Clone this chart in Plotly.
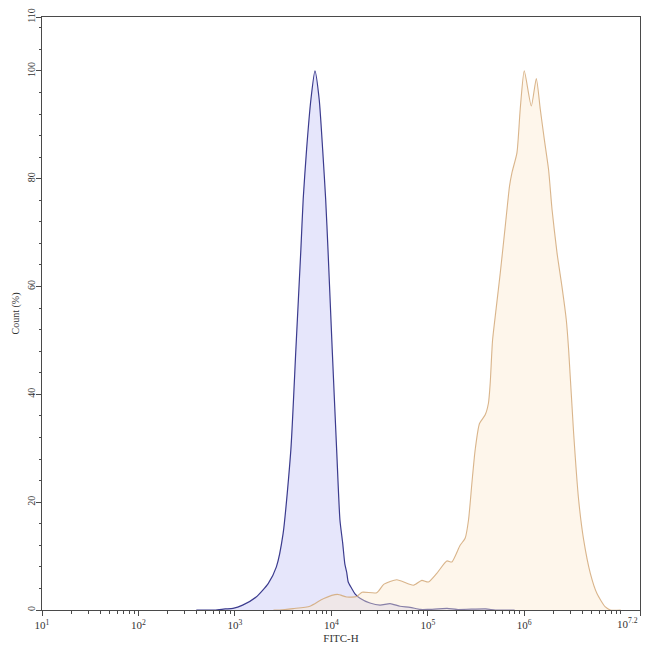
import numpy as np
import plotly.graph_objects as go

# FITC-H channel positions stored as log10 values, counts as % of max
blue_log = [2.60, 2.79, 2.90, 2.98, 3.08, 3.22, 3.345, 3.43, 3.50, 3.58, 3.632, 3.684,
            3.708, 3.743, 3.788, 3.83, 3.874, 3.91, 3.941, 3.965, 4.009, 4.055, 4.089,
            4.117, 4.14, 4.159, 4.175, 4.211, 4.245, 4.297, 4.40, 4.505, 4.609, 4.712,
            4.816, 4.92, 5.0, 5.2, 5.3, 5.6, 5.7, 5.9]
blue_count = [0, 0, 0.2, 0.3, 0.9, 2.4, 4.9, 8.0, 14.2, 29.7, 48.3, 66.9,
              76.2, 85.4, 94.7, 100, 94.7, 85.4, 76.2, 66.9, 48.3, 29.7, 16.7,
              12.5, 8.5, 7.0, 5.2, 4.0, 3.0, 2.2, 1.3, 0.9, 1.2, 0.7,
              0.5, 0.1, 0.1, 0.3, 0.1, 0.2, 0, 0]

orange_log = [3.40, 3.466, 3.604, 3.778, 3.916, 4.063, 4.159, 4.263, 4.318, 4.47, 4.546,
              4.678, 4.851, 4.938, 5.006, 5.093, 5.197, 5.249, 5.335, 5.387, 5.422,
              5.457, 5.491, 5.536, 5.595, 5.629, 5.647, 5.671, 5.709, 5.751, 5.803,
              5.847, 5.872, 5.924, 5.958, 6.0, 6.073, 6.125, 6.166, 6.208, 6.252,
              6.288, 6.34, 6.391, 6.436, 6.46, 6.512, 6.564, 6.616, 6.685, 6.755,
              6.841, 6.893, 7.0]
orange_count = [0, 0, 0.26, 0.7, 2.1, 2.9, 2.4, 2.5, 3.3, 3.2, 4.8,
                5.6, 4.6, 5.5, 5.2, 6.8, 9.1, 8.9, 12.0, 13.3, 16.7,
                23.5, 29.7, 34.6, 36.2, 38.4, 42.1, 50.0, 56.0, 62.5, 71.2,
                78.6, 81.1, 84.8, 92.9, 100, 93.5, 98.6, 92.9, 87.3, 81.7,
                74.3, 66.2, 60.0, 53.8, 48.3, 32.8, 20.4, 13.0, 6.8, 3.0,
                0.56, 0, 0]

x_major = [1, 2, 3, 4, 5, 6, 7.2]
x_major_text = ["10<sup>1</sup>", "10<sup>2</sup>", "10<sup>3</sup>", "10<sup>4</sup>",
                "10<sup>5</sup>", "10<sup>6</sup>", ""]
x_end_text = "10<sup>7.2</sup>"
y_ticks = [0, 20, 40, 60, 80, 100, 110]

FONT = "Liberation Serif, Times New Roman, serif"
AXIS = "#4a4a4a"

x_minor = [m * 10 ** d for d in range(1, 7) for m in range(2, 10)] + [1e7]

fig = go.Figure()
fig.add_trace(go.Scatter(
    x=10 ** np.array(blue_log), y=blue_count, mode="lines",
    line=dict(color="#3b3b8e", width=1.2, shape="spline", smoothing=0.6),
    fill="tozeroy", fillcolor="rgba(214,214,248,0.6)", showlegend=False,
))
fig.add_trace(go.Scatter(
    x=10 ** np.array(orange_log), y=orange_count, mode="lines",
    line=dict(color="rgba(210,168,120,0.85)", width=1.1, shape="spline", smoothing=0.6),
    fill="tozeroy", fillcolor="rgba(252,232,205,0.4)", showlegend=False,
))

# last tick label sits at the window edge, so it is right-anchored instead
fig.add_annotation(
    x=1, y=0, xref="paper", yref="paper", xanchor="right", yanchor="top",
    xshift=-1, yshift=-5, showarrow=False, text=x_end_text, borderpad=0,
    font=dict(size=11, color="#333333"),
)

# page body adds an 8px margin all round, so the figure fills what is left
fig.update_layout(
    width=642, height=636,
    margin=dict(l=34, r=10, t=9, b=34),
    paper_bgcolor="white", plot_bgcolor="white",
    font=dict(family=FONT, size=11, color="#333333"),
)
fig.update_xaxes(
    type="log", range=[1, 7.2], automargin=False, ticklabeloverflow="allow",
    tickmode="array",
    tickvals=[10 ** v for v in x_major], ticktext=x_major_text,
    ticks="outside", ticklen=5, tickcolor=AXIS,
    minor=dict(tickvals=x_minor, ticks="outside", ticklen=2.5, tickcolor=AXIS),
    showline=True, linecolor=AXIS, linewidth=1, mirror=True,
    showgrid=False, zeroline=False,
    tickfont=dict(size=11),
    title=dict(text="FITC-H", font=dict(size=11), standoff=5),
)
fig.update_yaxes(
    range=[0, 110], tickvals=y_ticks, tickangle=-90, automargin=False,
    ticklabeloverflow="allow",
    ticks="outside", ticklen=5, tickcolor=AXIS, ticklabelstandoff=-3,
    minor=dict(dtick=4, tick0=0, ticks="outside", ticklen=2.5, tickcolor=AXIS),
    showline=True, linecolor=AXIS, linewidth=1, mirror=True,
    showgrid=False, zeroline=False,
    tickfont=dict(size=10),
    title=dict(text="Count (%)", font=dict(size=10), standoff=4),
)

fig.write_html("out.html")
